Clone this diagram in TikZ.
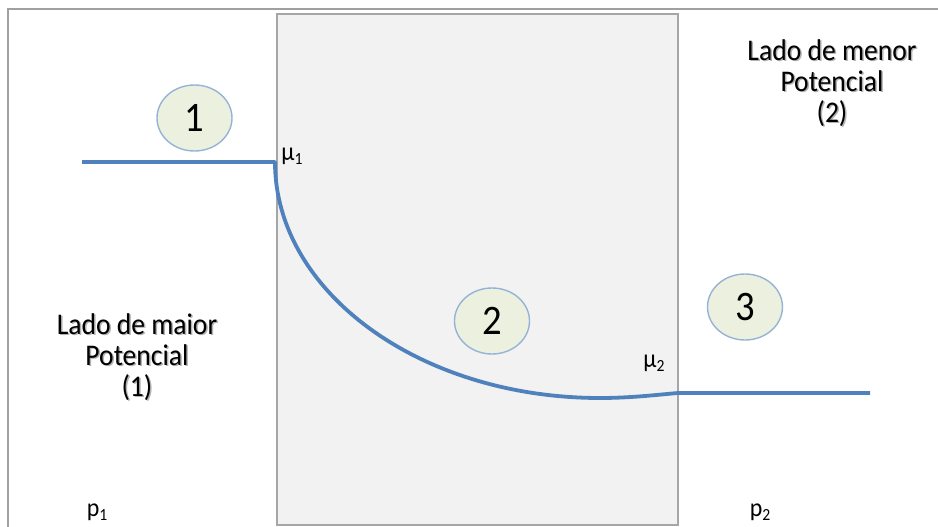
\documentclass[tikz,border=0pt]{standalone}
\usepackage{fontspec}
\setmainfont[FakeStretch=0.92]{Carlito}
\usetikzlibrary{shapes.geometric}

\definecolor{curveblue}{HTML}{4F81BD}
\definecolor{zonefill}{HTML}{EBF1DE}
\definecolor{zoneedge}{HTML}{95B3D7}
\definecolor{boxfill}{HTML}{F2F2F2}
\definecolor{boxedge}{HTML}{A6A6A6}
\definecolor{framegray}{HTML}{A0A0A0}

\newcommand{\subidx}[1]{\raisebox{-0.18em}{\fontsize{17}{17}\selectfont #1}}

\begin{document}
\begin{tikzpicture}[x=1pt,y=-1pt,
  zone/.style={ellipse, draw=zoneedge, fill=zonefill, line width=1.4pt,
    minimum width=75pt, minimum height=66pt, inner sep=0pt,
    font=\fontsize{42}{44}\selectfont},
  sidelabel/.style={align=center, inner sep=0pt, font=\fontsize{30}{31}\selectfont},
  shade/.style={sidelabel, text=black!30},
  sym/.style={inner sep=0pt, anchor=base, font=\fontsize{26}{28}\selectfont},
  potline/.style={draw=curveblue, line width=3.8pt, line join=round}]
\useasboundingbox (0,0) rectangle (938,527);

% outer frame (top and left edges)
\draw[framegray, line width=1.3pt] (8,527) -- (8,9) -- (938,9);

% membrane region
\draw[boxedge, fill=boxfill, line width=1.3pt] (277,14) rectangle (678,525);

% potential profile
\coordinate (a) at (82,162);
\coordinate (b) at (275,162);
\coordinate (c) at (600,398);
\coordinate (d) at (678,393);
\coordinate (e) at (870,393);
\path[potline] (a) -- (b) .. controls (275,292) and (420,398) .. (c)
  .. controls (630,398) and (655,395) .. (d) -- (e);

% zone markers
\node[zone] (z1) at (194.5,118) {1};
\node[zone] (z2) at (492,321) {2};
\node[zone] (z3) at (745,307) {3};

% chemical potentials and pressures
\node[sym] (mu1) at (292,160) {μ\subidx{1}};
\node[sym] (mu2) at (654,367) {μ\subidx{2}};
\node[sym] (p1) at (97,516) {p\subidx{1}};
\node[sym] (p2) at (760,516) {p\subidx{2}};

% side labels
\node[shade] at (833.5,84.5) {Lado de menor\\Potencial\\(2)};
\node[sidelabel] (hi) at (832,83) {Lado de menor\\Potencial\\(2)};
\node[shade] at (138.5,358.5) {Lado de maior\\Potencial\\(1)};
\node[sidelabel] (lo) at (137,357) {Lado de maior\\Potencial\\(1)};
\end{tikzpicture}
\end{document}
